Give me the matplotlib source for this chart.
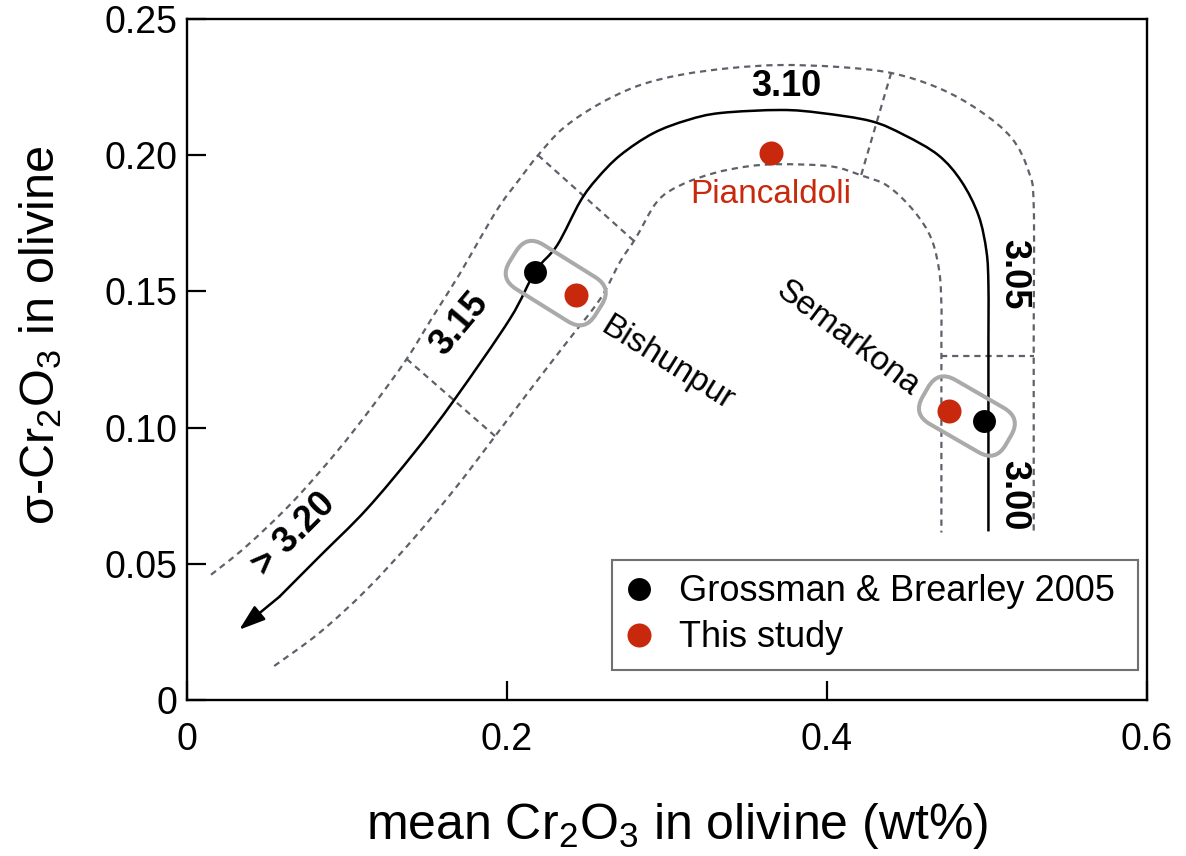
import matplotlib
matplotlib.use("Agg")
import matplotlib.pyplot as plt
from matplotlib.lines import Line2D
from matplotlib.patches import FancyBboxPatch, PathPatch
from matplotlib.path import Path
from matplotlib.transforms import Affine2D, ScaledTranslation

plt.rcParams['font.family'] = ['Liberation Sans', 'DejaVu Sans']
plt.rcParams['mathtext.fontset'] = 'custom'
plt.rcParams['mathtext.rm'] = 'Liberation Sans'
plt.rcParams['mathtext.it'] = 'Liberation Sans:italic'
plt.rcParams['mathtext.bf'] = 'Liberation Sans:bold'

RED = '#c8280b'
DASH = '#5d6169'

# measured chondrites (mean Cr2O3, sigma Cr2O3)
gb_x = [0.2176, 0.4984]          # Grossman & Brearley 2005: Bishunpur, Semarkona
gb_y = [0.1573, 0.1024]
study_x = [0.2433, 0.4765, 0.3649]  # this study: Bishunpur, Semarkona, Piancaldoli
study_y = [0.1488, 0.1061, 0.2007]

# petrologic type trend (solid), starts at arrow tip
trend_x = [0.0326, 0.0577, 0.0828, 0.1122, 0.1423, 0.1674, 0.2019, 0.2176, 0.2313,
           0.2458, 0.2564, 0.2708, 0.2915, 0.3129, 0.3335, 0.3712, 0.3962, 0.4276,
           0.4483, 0.4696, 0.4840, 0.4947, 0.4997, 0.5009, 0.5009, 0.5009]
trend_y = [0.0258, 0.0379, 0.0527, 0.0700, 0.0910, 0.1105, 0.1400, 0.1573, 0.1669,
           0.1831, 0.1915, 0.2000, 0.2081, 0.2129, 0.2155, 0.2166, 0.2155, 0.2125,
           0.2074, 0.2000, 0.1904, 0.1779, 0.1646, 0.1521, 0.1326, 0.0619]

# upper envelope (dashed)
outer_x = [0.0150, 0.0370, 0.0658, 0.0934, 0.1160, 0.1373, 0.1536, 0.1705, 0.1831,
           0.1956, 0.2082, 0.2194, 0.2351, 0.2564, 0.2815, 0.3085, 0.3398, 0.3712,
           0.4069, 0.4401, 0.4696, 0.4947, 0.5154, 0.5260, 0.5292, 0.5292, 0.5292]
outer_y = [0.0460, 0.0564, 0.0726, 0.0910, 0.1079, 0.1252, 0.1407, 0.1565, 0.1694,
           0.1816, 0.1915, 0.2000, 0.2099, 0.2184, 0.2254, 0.2295, 0.2320, 0.2331,
           0.2324, 0.2302, 0.2247, 0.2166, 0.2063, 0.1941, 0.1816, 0.1326, 0.0615]

# lower envelope (dashed)
inner_x = [0.0545, 0.0828, 0.1122, 0.1411, 0.1687, 0.1912, 0.2163, 0.2376, 0.2583,
           0.2708, 0.2803, 0.2940, 0.3085, 0.3292, 0.3505, 0.3712, 0.4025, 0.4213,
           0.4382, 0.4545, 0.4652, 0.4702, 0.4715, 0.4715, 0.4715]
inner_y = [0.0125, 0.0247, 0.0405, 0.0589, 0.0785, 0.0958, 0.1153, 0.1315, 0.1473,
           0.1610, 0.1694, 0.1831, 0.1890, 0.1934, 0.1959, 0.1967, 0.1959, 0.1926,
           0.1886, 0.1794, 0.1694, 0.1573, 0.1448, 0.1326, 0.0615]

# boundaries between types (dashed)
cross_lines = [
    ([0.1373, 0.1925], [0.1252, 0.0969]),
    ([0.2194, 0.2790], [0.2000, 0.1687]),
    ([0.4401, 0.4213], [0.2302, 0.1926]),
    ([0.4715, 0.5292], [0.1263, 0.1263]),
]

# annotations: text, x, y, rotation, bold, colour
labels = [
    ('3.10', 0.3743, 0.2254, 0, True, 'k'),
    ('3.05', 0.5166, 0.1565, -90, True, 'k'),
    ('3.00', 0.5166, 0.0751, -90, True, 'k'),
    ('3.15', 0.1705, 0.1381, 50, True, 'k'),
    ('> 3.20', 0.0671, 0.0608, 45, True, 'k'),
    ('Bishunpur', 0.3003, 0.1234, -32, False, 'k'),
    ('Semarkona', 0.4132, 0.1326, -37, False, 'k'),
    ('Piancaldoli', 0.3649, 0.1856, 0, False, RED),
]

# grey boxes grouping the two analyses of a meteorite: pair index, angle, length, width (inches)
boxes = [(0, -32, 1.01, 0.52), (1, -30, 0.96, 0.51)]

xticks = [0, 0.2, 0.4, 0.6]
xticklabels = ['0', '0.2', '0.4', '0.6']
yticks = [0, 0.05, 0.10, 0.15, 0.20, 0.25]
yticklabels = ['0', '0.05', '0.10', '0.15', '0.20', '0.25']


def smooth(xs, ys):
    # Catmull-Rom style bezier through the traced points
    pts = list(zip(xs, ys))
    n = len(pts)
    verts = [pts[0]]
    codes = [Path.MOVETO]
    for i in range(n - 1):
        p0 = pts[max(i - 1, 0)]
        p1 = pts[i]
        p2 = pts[i + 1]
        p3 = pts[min(i + 2, n - 1)]
        c1 = (p1[0] + (p2[0] - p0[0]) / 6, p1[1] + (p2[1] - p0[1]) / 6)
        c2 = (p2[0] - (p3[0] - p1[0]) / 6, p2[1] - (p3[1] - p1[1]) / 6)
        verts += [c1, c2, p2]
        codes += [Path.CURVE4] * 3
    return Path(verts, codes)


fig = plt.figure(figsize=(11.86, 8.56), dpi=100)
ax = fig.add_axes([0.1577, 0.1822, 0.8094, 0.7956])

dash_kw = dict(color=DASH, lw=1.6, linestyle=(0, (2.8, 2.2)), zorder=2)
for xs, ys in [(outer_x, outer_y), (inner_x, inner_y)]:
    ax.add_patch(PathPatch(smooth(xs, ys), fill=False, ec=DASH, lw=1.6,
                           ls=(0, (2.8, 2.2)), zorder=2))
for cx, cy in cross_lines:
    ax.plot(cx, cy, **dash_kw)

ax.add_patch(PathPatch(smooth(trend_x[1:], trend_y[1:]), fill=False, ec='k',
                       lw=1.8, zorder=3))
ax.annotate('', xy=(trend_x[0], trend_y[0]), xytext=(trend_x[1], trend_y[1]),
            arrowprops=dict(arrowstyle='-|>,head_length=0.8,head_width=0.27',
                            mutation_scale=20, color='k', lw=1.8,
                            shrinkA=0, shrinkB=0), zorder=3)

for i, ang, L, W in boxes:
    mx = (gb_x[i] + study_x[i]) / 2
    my = (gb_y[i] + study_y[i]) / 2
    tr = (Affine2D().rotate_deg(ang) + fig.dpi_scale_trans
          + ScaledTranslation(mx, my, ax.transData))
    box = FancyBboxPatch((-L / 2, -W / 2), L, W,
                         boxstyle='round,pad=0,rounding_size=0.2',
                         fc='none', ec='#a9aba9', lw=2.9, transform=tr, zorder=4)
    ax.add_patch(box)

ax.plot(gb_x, gb_y, 'o', color='k', ms=16.5, mew=0, zorder=5)
ax.plot(study_x, study_y, 'o', color=RED, ms=17.3, mew=0, zorder=5)

for txt, x, y, rot, bold, col in labels:
    ax.text(x, y, txt, rotation=rot, ha='center', va='center', color=col,
            fontsize=26 if bold else 24, fontweight='bold' if bold else 'normal',
            rotation_mode='anchor', zorder=6)

ax.set_xlim(0, 0.6)
ax.set_ylim(0, 0.25)
ax.set_xticks(xticks)
ax.set_xticklabels(xticklabels)
ax.set_yticks(yticks)
ax.set_yticklabels(yticklabels)
ax.tick_params(direction='in', length=14, width=1.6, labelsize=27, colors='k')
ax.tick_params(axis='x', pad=16)
ax.tick_params(axis='y', pad=7)
for sp in ax.spines.values():
    sp.set_linewidth(1.7)

ax.set_xlabel(r'mean Cr$_\mathrm{2}$O$_\mathrm{3}$ in olivine (wt%)', fontsize=36)
ax.set_ylabel(r'σ-Cr$_\mathrm{2}$O$_\mathrm{3}$ in olivine', fontsize=35)
ax.xaxis.set_label_coords(0.511, -0.148)
ax.yaxis.set_label_coords(-0.128, 0.536)

handles = [Line2D([], [], ls='none', marker='o', color='k', ms=16.5, mew=0),
           Line2D([], [], ls='none', marker='o', color=RED, ms=17.3, mew=0)]
leg = ax.legend(handles, ['Grossman & Brearley 2005', 'This study'],
                loc='upper left', bbox_to_anchor=(0.4427, 0.047, 0.5479, 0.1586),
                mode='expand', borderaxespad=0, fontsize=26, handlelength=0.7,
                handletextpad=0.75, labelspacing=0.3, borderpad=0.4,
                fancybox=False, framealpha=1, edgecolor='#707070')
leg.get_frame().set_linewidth(1.5)

fig.savefig('out.png', dpi=100)
